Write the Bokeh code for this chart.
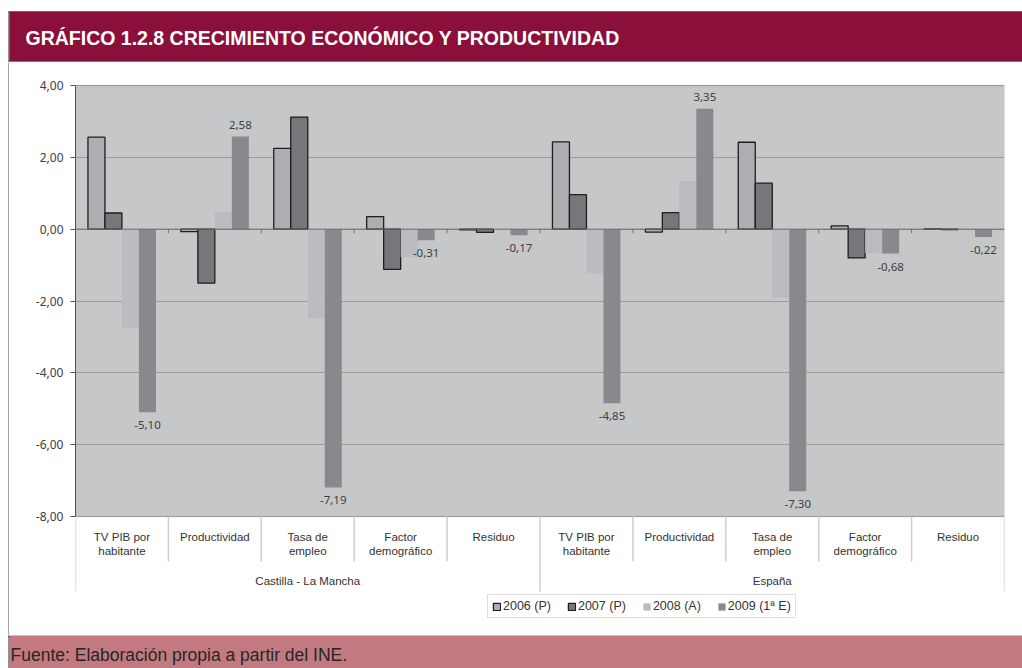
from bokeh.plotting import figure
from bokeh.layouts import column, row
from bokeh.models import (FactorRange, Range1d, ColumnDataSource, FixedTicker, BoxAnnotation,
                          Span, Label, LabelSet, Legend, LegendItem, CustomJSTickFormatter)
from bokeh.transform import dodge
from bokeh.core.properties import value
from bokeh.embed import file_html
from bokeh.resources import INLINE

# ---------------- data ----------------
groups = ["Castilla - La Mancha", "España"]
categories = ["TV PIB por\nhabitante", "Productividad", "Tasa de\nempleo", "Factor\ndemográfico", "Residuo"]
series = ["2006 (P)", "2007 (P)", "2008 (A)", "2009 (1ª E)"]
v2006 = [2.56, -0.07, 2.25, 0.35, -0.02, 2.43, -0.08, 2.42, 0.09, 0.01]
v2007 = [0.45, -1.50, 3.12, -1.12, -0.09, 0.96, 0.46, 1.28, -0.80, -0.01]
v2008 = [-2.76, 0.48, -2.49, -0.78, -0.02, -1.23, 1.34, -1.91, -0.67, 0.01]
v2009 = [-5.10, 2.58, -7.19, -0.31, -0.17, -4.85, 3.35, -7.30, -0.68, -0.22]
y_ticks = [-8, -6, -4, -2, 0, 2, 4]
title_text = "GRÁFICO 1.2.8 CRECIMIENTO ECONÓMICO Y PRODUCTIVIDAD"
source_text = "Fuente: Elaboración propia a partir del INE."

# ---------------- layout constants (page pixels) ----------------
W = 1022
TITLE_H = 62      # page 0..62
MAIN_H = 573      # page 62..635
FOOT_H = 33       # page 635..668
STRIP_W = 9       # page x 0..9 (border line at x=8)
FL, FR = 66, 18   # main frame borders (main fig starts at page x 9)
PAGE_TOP = 85     # page y of top tick
PAGE_BOT = 516    # page y of bottom tick
PX = (PAGE_BOT - PAGE_TOP) / (y_ticks[-1] - y_ticks[0])
BORDER = "#4A4A4A"


def yd(page_y):
    return y_ticks[-1] - (page_y - PAGE_TOP) / PX


def py(v):
    return PAGE_TOP + (y_ticks[-1] - v) * PX


def base_fig(w, h):
    f = figure(width=w, height=h, x_range=Range1d(0, w), y_range=Range1d(h, 0),
               x_axis_location=None, y_axis_location=None, output_backend="svg",
               toolbar_location=None, min_border_left=0, min_border_right=0,
               min_border_top=0, min_border_bottom=0)
    f.grid.visible = False
    f.outline_line_color = None
    f.background_fill_color = "white"
    f.border_fill_color = "white"
    return f


# ---------------- title strip ----------------
tf = base_fig(W, TITLE_H)
tf.add_layout(BoxAnnotation(left=9, right=W, top=11, bottom=61, fill_color="#8A0F3A",
                            fill_alpha=1, line_color=None))
tf.segment(x0=[8], x1=[W], y0=[11.5], y1=[11.5], line_color="#3C3C3C", line_width=1.2)
tf.segment(x0=[8], x1=[W], y0=[61.5], y1=[61.5], line_color="#7A7A7A", line_width=1)
tf.segment(x0=[8.5], x1=[8.5], y0=[11], y1=[TITLE_H], line_color=BORDER, line_width=1.2)
tf.add_layout(Label(x=25, y=37.5, text=title_text, text_color="white",
                    text_font="Liberation Sans", text_font_style="bold", text_font_size="19.5px",
                    text_baseline="middle", text_align="left"))

# ---------------- left border strip for main area ----------------
strip = base_fig(STRIP_W, MAIN_H)
strip.add_layout(BoxAnnotation(left=8, right=9, top=0, bottom=MAIN_H, fill_color=BORDER,
                               fill_alpha=1, line_color=None))

# ---------------- main chart ----------------
factors = [(g, c) for g in groups for c in categories]
x_range = FactorRange(*factors, factor_padding=0, group_padding=0, subgroup_padding=0, range_padding=0)

p = figure(width=W - STRIP_W, height=MAIN_H, x_range=x_range, y_range=Range1d(yd(635), yd(62)),
           x_axis_location=None, y_axis_location="left",
           output_backend="svg", toolbar_location=None,
           min_border_left=FL, min_border_right=FR, min_border_top=0, min_border_bottom=0)
p.background_fill_color = "white"
p.border_fill_color = "white"
p.outline_line_color = None

# plot area background
p.add_layout(BoxAnnotation(bottom=y_ticks[0], top=y_ticks[-1], fill_color="#C6C7C9", fill_alpha=1,
                           line_color="#9A9A9A", line_width=1.5, level="image"))

# y axis
ax = p.yaxis[0]
ax.ticker = FixedTicker(ticks=y_ticks)
ax.bounds = (y_ticks[0], y_ticks[-1])
ax.formatter = CustomJSTickFormatter(code="return tick.toFixed(2).replace('.', ',');")
ax.major_label_text_font = "Noto Sans"
ax.major_label_text_font_size = "12px"
ax.major_label_text_color = "#404040"
ax.major_label_standoff = 7
ax.major_tick_out = 5
ax.major_tick_in = 0
ax.minor_tick_line_color = None
ax.axis_line_color = "#505050"
ax.major_tick_line_color = "#505050"

for g in p.grid:
    if g.dimension == 1:
        g.ticker = FixedTicker(ticks=y_ticks)
        g.grid_line_color = "#9C9C9C"
        g.grid_line_width = 1
    else:
        g.visible = False

# zero line
p.add_layout(Span(location=0, dimension="width", line_color="#6E6E6E", line_width=1, level="guide"))

src = ColumnDataSource(dict(
    x=factors, v2006=v2006, v2007=v2007, v2008=v2008, v2009=v2009,
    lab=[f"{v:.2f}".replace(".", ",") for v in v2009],
    yoff=[12 if v > 0 else -13 for v in v2009],
    line1=[c.split("\n")[0] for g in groups for c in categories],
    line2=[(c.split("\n") + [""])[1] for g in groups for c in categories],
    first=[1 if i == 0 else 0 for g in groups for i, c in enumerate(categories)],
))

# small ticks on the zero line at category boundaries
p.segment(x0=dodge("x", -0.5, range=x_range), x1=dodge("x", -0.5, range=x_range),
          y0=0, y1=yd(py(0) + 4), source=src, line_color="#6E6E6E", line_width=1)

colors = ["#ADAEB1", "#76777B", "#BBBCBF", "#88898D"]
outlines = ["#1E1E1E", "#1E1E1E", None, None]
bw = 0.183
offsets = [-1.5 * bw, -0.5 * bw, 0.5 * bw, 1.5 * bw]
cols = ["v2006", "v2007", "v2008", "v2009"]
renderers = []
for col, c, oc, off in zip(cols, colors, outlines, offsets):
    r = p.vbar(x=dodge("x", off, range=x_range), top=col, bottom=0, width=bw, source=src,
               fill_color=c, line_color=oc, line_width=1.3)
    renderers.append(r)

# data labels for last series
p.add_layout(LabelSet(x=dodge("x", offsets[3], range=x_range), y="v2009", text="lab", y_offset="yoff",
                      source=src, text_align="center", text_baseline="middle",
                      text_font=value("Noto Sans"), text_font_size="11.5px", text_color="#404040"))

# category dividers below plot
src_div = ColumnDataSource(dict(x=factors, y1=[yd(591) if f else yd(561) for f in src.data["first"]]))
p.segment(x0=dodge("x", -0.5, range=x_range), x1=dodge("x", -0.5, range=x_range),
          y0=y_ticks[0], y1="y1", source=src_div, line_color="#CFCFCF", line_width=1.5)
src_end = ColumnDataSource(dict(x=[factors[-1]]))
p.segment(x0=dodge("x", 0.5, range=x_range), x1=dodge("x", 0.5, range=x_range),
          y0=y_ticks[0], y1=yd(591), source=src_end, line_color="#CFCFCF", line_width=1.5)

# category labels
cat_font = value("Liberation Sans")
p.text(x="x", y=yd(536), text="line1", source=src, text_align="center", text_baseline="middle",
       text_font=cat_font, text_font_size="11.5px", text_color="#333333")
p.text(x="x", y=yd(550), text="line2", source=src, text_align="center", text_baseline="middle",
       text_font=cat_font, text_font_size="11.5px", text_color="#333333")
src_grp = ColumnDataSource(dict(x=[(g, categories[2]) for g in groups], t=groups))
p.text(x="x", y=yd(580), text="t", source=src_grp, text_align="center", text_baseline="middle",
       text_font=cat_font, text_font_size="11.5px", text_color="#333333")

# legend
legend = Legend(items=[LegendItem(label=s, renderers=[r]) for s, r in zip(series, renderers)],
                orientation="horizontal", location=(487 - 75, 635 - 618),
                glyph_width=9, glyph_height=9, label_standoff=2, spacing=16, padding=4, margin=0,
                label_height=11, label_text_font="Liberation Sans", label_text_font_size="12.5px",
                label_text_color="#333333", border_line_color="#BDBDBD", background_fill_color="white",
                background_fill_alpha=1)
p.add_layout(legend)

# ---------------- footer ----------------
ff = base_fig(W, FOOT_H)
ff.add_layout(BoxAnnotation(left=9, right=W, top=0, bottom=FOOT_H, fill_color="#C27A80",
                            fill_alpha=1, line_color=None))
ff.segment(x0=[8], x1=[W], y0=[1], y1=[1], line_color="#444444", line_width=2)
ff.segment(x0=[8.5], x1=[8.5], y0=[0], y1=[FOOT_H], line_color=BORDER, line_width=1.2)
ff.add_layout(Label(x=10, y=19, text=source_text, text_color="#262626",
                    text_font="Liberation Sans", text_font_size="17.5px",
                    text_baseline="middle", text_align="left"))

layout = column(tf, row(strip, p), ff)
open("out.html", "w").write(file_html(layout, INLINE))
